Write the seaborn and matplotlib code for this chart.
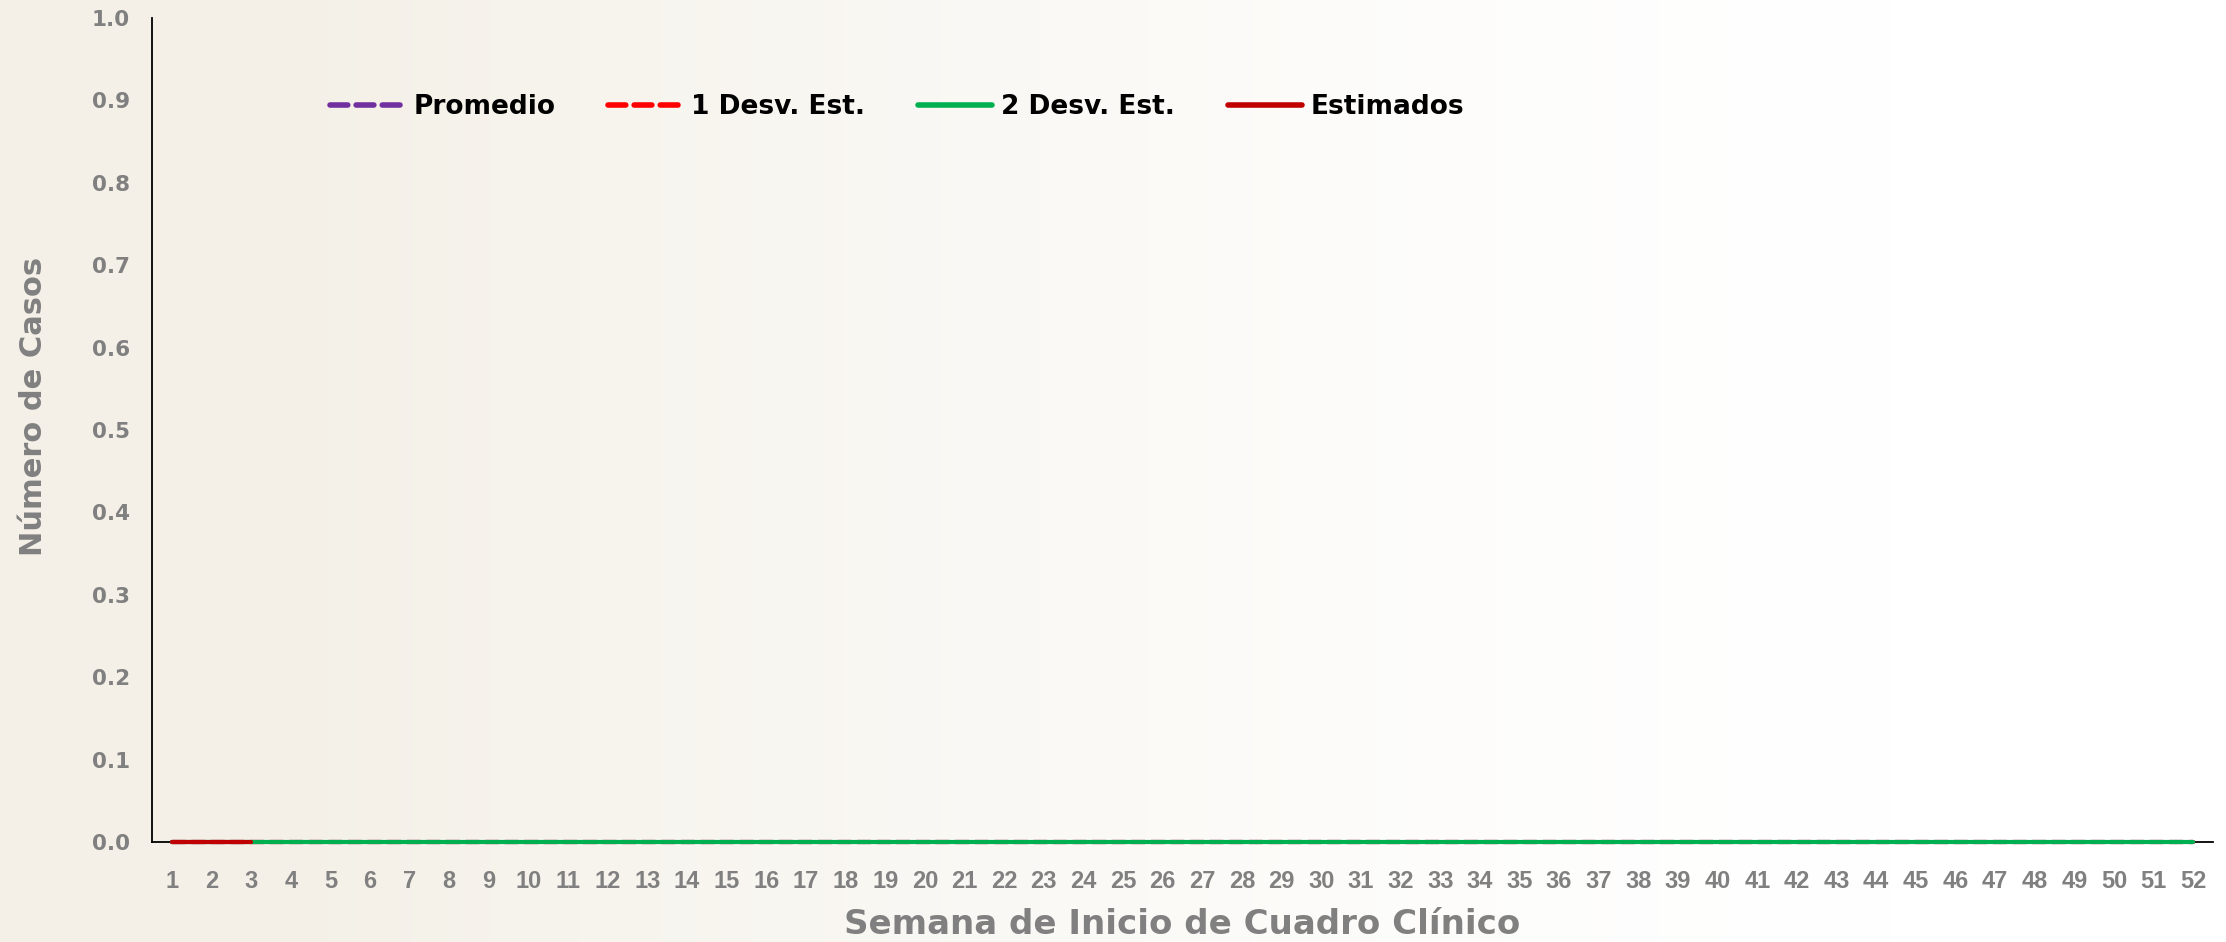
import numpy as np
import pandas as pd
import seaborn as sns
import matplotlib.pyplot as plt

# weekly values (all flat at zero)
semanas = list(range(1, 53))
promedio = [0.0] * 52
desv_1 = [0.0] * 52
desv_2 = [0.0] * 52
semanas_est = [1, 2, 3]
estimados = [0.0, 0.0, 0.0]

series_colors = {
    "Promedio": "#7030A0",
    "1 Desv. Est.": "#FF0000",
    "2 Desv. Est.": "#00B050",
    "Estimados": "#C00000",
}
grey = "#808080"

sns.set_style("white")
plt.rcParams["font.family"] = ["DejaVu Sans"]

fig = plt.figure(figsize=(22.26, 9.42), dpi=100)

# faint beige wash on the left like the watermark background
bg = fig.add_axes([0, 0, 1, 1], zorder=-10)
grad = np.clip(np.linspace(1.15, -0.2, 400), 0, 1) ** 1.4
img = np.ones((2, 400, 3))
beige = np.array([244, 240, 231]) / 255
for k in range(3):
    img[:, :, k] = 1 - (1 - beige[k]) * grad
bg.imshow(img, aspect="auto", extent=[0, 1, 0, 1])
bg.set_axis_off()

ax = fig.add_axes([0.0683, 0.1062, 0.9259, 0.8747])
ax.patch.set_alpha(0)

df = pd.DataFrame({"semana": semanas, "Promedio": promedio,
                   "1 Desv. Est.": desv_1, "2 Desv. Est.": desv_2})
df_est = pd.DataFrame({"semana": semanas_est, "Estimados": estimados})

dash = (0, (3.2, 1.5))
sns.lineplot(data=df, x="semana", y="Promedio", ax=ax, color=series_colors["Promedio"],
             lw=3, label="Promedio", clip_on=False, zorder=3)
ax.lines[-1].set_linestyle(dash)
sns.lineplot(data=df, x="semana", y="1 Desv. Est.", ax=ax, color=series_colors["1 Desv. Est."],
             lw=3, label="1 Desv. Est.", clip_on=False, zorder=3)
ax.lines[-1].set_linestyle(dash)
sns.lineplot(data=df, x="semana", y="2 Desv. Est.", ax=ax, color=series_colors["2 Desv. Est."],
             lw=3, label="2 Desv. Est.", clip_on=False, zorder=3)
sns.lineplot(data=df_est, x="semana", y="Estimados", ax=ax, color=series_colors["Estimados"],
             lw=3, label="Estimados", clip_on=False, zorder=4)
for ln in ax.lines:
    ln.set_solid_capstyle("round")
    ln.set_dash_capstyle("round")

ax.set_xlim(0.5, 52.5)
ax.set_ylim(0, 1.0)
ax.set_yticks(np.arange(0, 1.01, 0.1))
ax.set_yticklabels([f"{v:.1f}" for v in np.arange(0, 1.01, 0.1)])
ax.set_xticks(semanas)
ax.set_xticklabels([str(s) for s in semanas])
ax.set_xticks(np.arange(0.5, 53, 1), minor=True)
ax.tick_params(axis="x", which="major", length=0, pad=20, labelcolor=grey, labelsize=17)
ax.tick_params(axis="x", which="minor", length=8, width=1.3, color="black", direction="out")
ax.tick_params(axis="y", length=10, width=1.3, color="black", direction="out", pad=6,
               labelcolor=grey, labelsize=15.5)
for lab in ax.get_xticklabels():
    lab.set_fontfamily("Liberation Sans")
    lab.set_fontweight("bold")
for lab in ax.get_yticklabels():
    lab.set_fontweight("bold")

sns.despine(ax=ax)
for s in ["left", "bottom"]:
    ax.spines[s].set_color("black")
    ax.spines[s].set_linewidth(1.3)

ax.set_xlabel("Semana de Inicio de Cuadro Clínico", fontsize=24.5, fontweight="bold",
              color=grey, labelpad=11)
ax.set_ylabel("Número de Casos", fontsize=22, fontweight="bold", color=grey)
ax.yaxis.set_label_coords(-0.0505, 0.529)

leg = ax.legend(loc="center left", bbox_to_anchor=(0.0864, 0.892), ncol=4, frameon=False,
                borderpad=0, borderaxespad=0, handlelength=2.8, handletextpad=0.35,
                columnspacing=2.0, labelcolor="black",
                prop={"family": "DejaVu Sans", "weight": "bold", "size": 19})
for h in leg.get_lines():
    h.set_linewidth(4)

fig.savefig("out.png", dpi=100)
